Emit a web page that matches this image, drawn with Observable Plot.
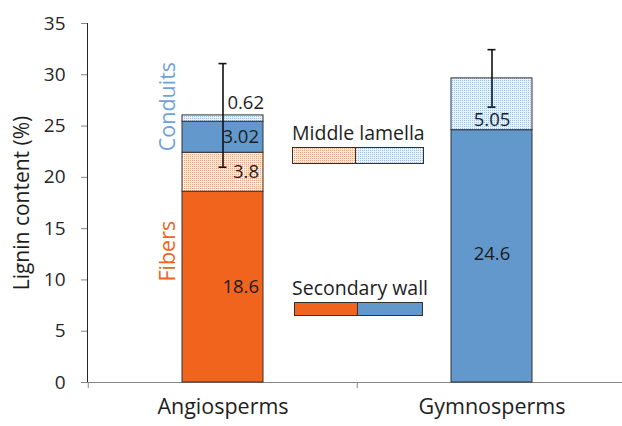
<!DOCTYPE html>
<html><head><meta charset="utf-8">
<script src="https://cdn.jsdelivr.net/npm/d3@7"></script>
<script src="https://cdn.jsdelivr.net/npm/@observablehq/plot@0.6"></script>
<style>
html,body{margin:0;padding:0;background:#fff;overflow:hidden;}
#chart{position:relative;width:622px;height:426px;}
#chart svg{position:absolute;left:0;top:0;}
#chart [aria-label^="y-axis"] line,#chart [aria-label^="y-axis"] path{stroke:#868686;}
#chart [aria-label^="y-axis"] text{fill:#262626;}
</style></head><body><div id="chart"></div>
<script>
// ---- data ----
const groups = ["Angiosperms", "Gymnosperms"];
const segGroup = ["Angiosperms", "Angiosperms", "Angiosperms", "Angiosperms", "Gymnosperms", "Gymnosperms"];
const segCell = ["Fibers", "Fibers", "Conduits", "Conduits", "Tracheids", "Tracheids"];
const segLayer = ["Secondary wall", "Middle lamella", "Secondary wall", "Middle lamella", "Secondary wall", "Middle lamella"];
const segValue = [18.6, 3.8, 3.02, 0.62, 24.6, 5.05];
const errValue = [5.05, 2.8];
const yTicks = [0, 5, 10, 15, 20, 25, 30, 35];
const yTitle = "Lignin content (%)";
const legendLayers = ["Middle lamella", "Secondary wall"];
const fillKeys = ["orange Secondary wall", "orange Middle lamella", "blue Secondary wall", "blue Middle lamella"];
const fillValues = ["#F0641E", "url(#dotOrange)", "#6398CC", "url(#dotBlue)"];

const ORANGE = "#F0641E", BLUE = "#6398CC";

const segs = segValue.map((v, i) => ({
  group: segGroup[i], cell: segCell[i], layer: segLayer[i], value: v,
  key: (segCell[i] === "Fibers" ? "orange " : "blue ") + segLayer[i]
}));
const errs = groups.map((g, i) => {
  const total = d3.sum(segs.filter(d => d.group === g), d => d.value);
  return {group: g, total, lo: total - errValue[i], hi: total + errValue[i]};
});

const lab = (pred) => d => pred(d) ? String(d.value) : null;
const labelStyle = {fontSize: 18.5, fill: "#1e1e1e"};

const chart = Plot.plot({
  width: 622, height: 426,
  marginLeft: 87, marginRight: 0, marginTop: 23, marginBottom: 44,
  style: {fontFamily: "'Open Sans', sans-serif", fontSize: "19px", color: "#262626", background: "transparent"},
  x: {domain: groups, range: [87, 626], paddingInner: 0.7, paddingOuter: 0.35, axis: null},
  y: {domain: [0, 35], ticks: yTicks, tickSize: 6, tickPadding: 16, label: null, line: true},
  color: {domain: fillKeys, range: fillValues},
  marks: [
    Plot.ruleY([0], {stroke: "#868686"}),
    Plot.ruleX(groups, {x: d => d, y1: 0, y2: -0.6, dx: -134.75, stroke: "#868686"}),
    Plot.barY(segs, {x: "group", y: "value", fill: "key", stroke: "#333", strokeWidth: 1}),
    Plot.ruleX(errs, {x: "group", y1: "lo", y2: "hi", stroke: "#111", strokeWidth: 1.6}),
    Plot.tickY(errs, {x: "group", y: "hi", stroke: "#111", strokeWidth: 1.6, insetLeft: 36.5, insetRight: 36.5}),
    Plot.tickY(errs, {x: "group", y: "lo", stroke: "#111", strokeWidth: 1.6, insetLeft: 36.5, insetRight: 36.5}),
    // value labels
    Plot.text(segs, Plot.stackY({x: "group", y: "value", text: lab(d => d.group === "Angiosperms" && d.value > 1), textAnchor: "end", dx: 36, ...labelStyle})),
    Plot.text(segs, Plot.stackY({x: "group", y: "value", text: lab(d => d.group === "Angiosperms" && d.value < 1), textAnchor: "end", dx: 41, dy: -16, ...labelStyle})),
    Plot.text(segs, Plot.stackY({x: "group", y: "value", text: lab(d => d.group === "Gymnosperms" && d.layer === "Secondary wall"), dx: 0, dy: -2, ...labelStyle})),
    Plot.text(segs, Plot.stackY({x: "group", y: "value", text: lab(d => d.group === "Gymnosperms" && d.layer === "Middle lamella"), dx: 0, dy: 16, ...labelStyle})),
    // cell-type annotations
    Plot.text(["Conduits"], {x: () => groups[0], y: () => 26.9, text: d => d, rotate: -90, dx: -55, fill: "#6FA3D8", fontSize: 21.5}),
    Plot.text(["Fibers"], {x: () => groups[0], y: () => 12.8, text: d => d, rotate: -90, dx: -55, fill: ORANGE, fontSize: 21.5}),
    // category labels and y title
    Plot.text(groups, {x: d => d, text: d => d, frameAnchor: "bottom", dy: 31, fontSize: 21.5, fill: "#1e1e1e"}),
    Plot.text([yTitle], {text: d => d, frameAnchor: "left", textAnchor: "middle", rotate: -90, dx: -65, fontSize: 21, fill: "#1e1e1e"})
  ]
});
const host = document.getElementById("chart");
host.appendChild(chart);

// ---- overlay: pattern defs + legend ----
const ov = d3.select(host).append("svg").attr("width", 622).attr("height", 426).style("pointer-events", "none");
const defs = ov.append("defs");
function pat(id, bg, dot) {
  const p = defs.append("pattern").attr("id", id).attr("patternUnits", "userSpaceOnUse").attr("width", 2).attr("height", 2);
  p.append("rect").attr("width", 2).attr("height", 2).attr("fill", bg);
  p.append("rect").attr("width", 1).attr("height", 1).attr("fill", dot);
}
pat("dotOrange", "#fdebe1", "#f4a175");
pat("dotBlue", "#eaf2fb", "#99bfe6");

const legendPos = [
  {tx: 292, ty: 140, x0: 292, xm: 355, x1: 423, y0: 147, y1: 163, fills: [fillValues[1], fillValues[3]]},
  {tx: 292, ty: 295, x0: 294, xm: 357, x1: 422, y0: 302, y1: 315, fills: [fillValues[0], fillValues[2]]}
];
legendLayers.forEach((name, i) => {
  const p = legendPos[i];
  ov.append("text").attr("x", p.tx).attr("y", p.ty).text(name)
    .attr("font-family", "'Open Sans', sans-serif").attr("font-size", 19.5).attr("fill", "#1e1e1e");
  ov.append("rect").attr("x", p.x0 + 0.5).attr("y", p.y0 + 0.5).attr("width", p.xm - p.x0).attr("height", p.y1 - p.y0)
    .attr("fill", p.fills[0]).attr("stroke", "#333");
  ov.append("rect").attr("x", p.xm + 0.5).attr("y", p.y0 + 0.5).attr("width", p.x1 - p.xm).attr("height", p.y1 - p.y0)
    .attr("fill", p.fills[1]).attr("stroke", "#333");
});
</script></body></html>
